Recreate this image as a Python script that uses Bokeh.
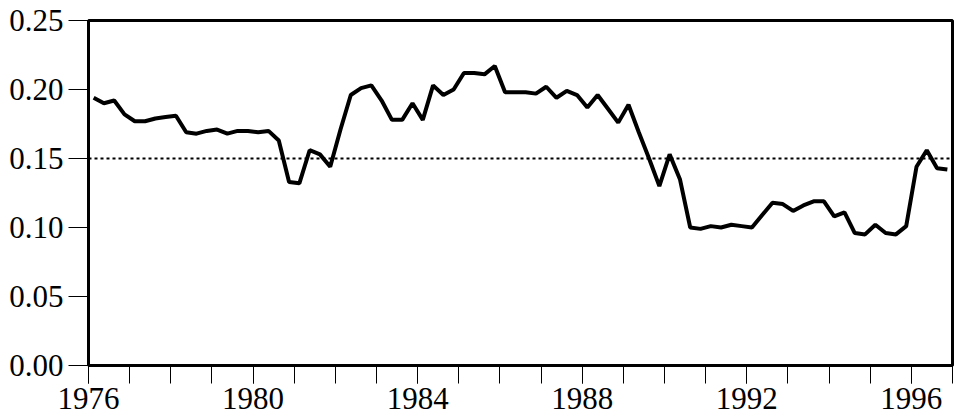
from bokeh.embed import file_html
from bokeh.models import ColumnDataSource, FixedTicker, PrintfTickFormatter, Range1d, Span
from bokeh.plotting import figure
from bokeh.resources import INLINE

# quarterly observations, 1976Q1 .. 1996Q4
first_year = 1976
n_quarters = 84
ratio = [
    0.194, 0.190, 0.192, 0.182, 0.177, 0.177, 0.179, 0.180,
    0.181, 0.169, 0.168, 0.170, 0.171, 0.168, 0.170, 0.170,
    0.169, 0.170, 0.163, 0.133, 0.132, 0.156, 0.153, 0.144,
    0.171, 0.196, 0.201, 0.203, 0.192, 0.178, 0.178, 0.190,
    0.178, 0.203, 0.196, 0.200, 0.212, 0.212, 0.211, 0.217,
    0.198, 0.198, 0.198, 0.197, 0.202, 0.194, 0.199, 0.196,
    0.187, 0.196, 0.186, 0.176, 0.189, 0.169, 0.150, 0.130,
    0.153, 0.135, 0.100, 0.099, 0.101, 0.100, 0.102, 0.101,
    0.100, 0.109, 0.118, 0.117, 0.112, 0.116, 0.119, 0.119,
    0.108, 0.111, 0.096, 0.095, 0.102, 0.096, 0.095, 0.101,
    0.144, 0.156, 0.143, 0.142,
]
reference_level = 0.15

year_labels = [1976, 1980, 1984, 1988, 1992, 1996]
year_ticks = list(range(1976, 1998))
y_ticks = [0.0, 0.05, 0.10, 0.15, 0.20, 0.25]

# mid-quarter positions
dates = [first_year + (q + 0.5) / 4 for q in range(n_quarters)]
source = ColumnDataSource(data=dict(date=dates, ratio=ratio))

FONT = "Liberation Serif"

p = figure(width=954, height=418, output_backend="svg", toolbar_location=None,
           x_range=Range1d(1976, 1997), y_range=Range1d(0, 0.25),
           min_border_left=88, min_border_right=2, min_border_top=20,
           min_border_bottom=53)
p.grid.visible = False
p.outline_line_color = "black"
p.outline_line_width = 3
p.outline_line_alpha = 1.0

p.add_layout(Span(location=reference_level, dimension="width", line_color="black",
                  line_width=2, line_dash="3 3"))
p.line(source=source, x="date", y="ratio", line_color="black", line_width=4)

for ax in (p.xaxis[0], p.yaxis[0]):
    ax.axis_line_width = 3
    ax.axis_line_color = "black"
    ax.major_tick_line_color = "black"
    ax.major_tick_line_width = 1
    ax.major_tick_in = 0
    ax.major_label_text_font = FONT
    ax.major_label_text_font_size = "31px"
    ax.major_label_text_color = "black"

p.xaxis.ticker = FixedTicker(ticks=year_labels, minor_ticks=year_ticks)
p.xaxis.major_tick_out = 18
p.xaxis.minor_tick_out = 18
p.xaxis.minor_tick_in = 0
p.xaxis.minor_tick_line_color = "black"
p.xaxis.minor_tick_line_width = 1
p.xaxis.major_label_standoff = 4

p.yaxis.ticker = FixedTicker(ticks=y_ticks)
p.yaxis.formatter = PrintfTickFormatter(format="%.2f")
p.yaxis.major_tick_out = 20
p.yaxis.minor_tick_line_color = None
p.yaxis.major_label_standoff = 5

open("out.html", "w").write(file_html(p, INLINE))
